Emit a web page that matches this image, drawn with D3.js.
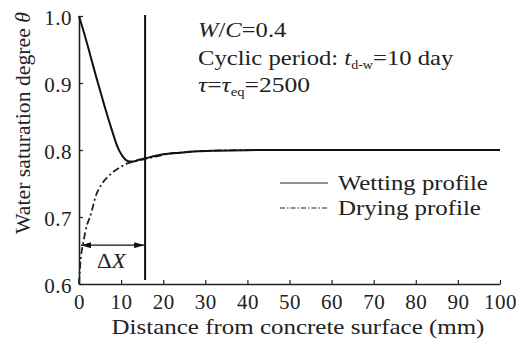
<!DOCTYPE html>
<html>
<head>
<meta charset="utf-8">
<script src="https://cdn.jsdelivr.net/npm/d3@7"></script>
<style>
  body { margin: 0; background: #fff; }
  svg { display: block; font-family: 'Liberation Serif'; }
</style>
</head>
<body>
<svg id="chart" width="530" height="341" font-family="Liberation Serif"></svg>
<script>
// distance (mm) and saturation degree
var wetX = [0, 1, 2, 3, 4, 5, 6, 7, 8, 9, 10, 11, 12, 13, 14, 16, 18, 20, 24, 28, 32, 40, 50, 100];
var wetY = [1.0, 0.979, 0.957, 0.934, 0.911, 0.889, 0.867, 0.846, 0.826, 0.807, 0.794, 0.786, 0.783, 0.783, 0.785, 0.788, 0.791, 0.7935, 0.796, 0.798, 0.799, 0.7998, 0.8, 0.8];
var dryX = [0, 0.3, 1, 2, 2.6, 4.2, 5.5, 7, 8.5, 10, 11.5, 12.5, 14, 16, 18, 20, 24, 28, 32, 40, 50, 100];
var dryY = [0.6, 0.63, 0.661, 0.69, 0.70, 0.735, 0.75, 0.761, 0.769, 0.775, 0.780, 0.782, 0.784, 0.787, 0.790, 0.793, 0.796, 0.798, 0.799, 0.7998, 0.8, 0.8];
var xTicks = [0, 10, 20, 30, 40, 50, 60, 70, 80, 90, 100];
var yTicks = [0.6, 0.7, 0.8, 0.9, 1.0];
var deltaX = 15.7, arrowTheta = 0.658;

var FONT = "Liberation Serif";
var INK = "#222";

var svg = d3.select("#chart");
var x = d3.scaleLinear().domain([0, 100]).range([79, 500]);
var y = d3.scaleLinear().domain([0.6, 1.0]).range([284, 16]);

// text helper: squeeze/stretch horizontally to the width seen in the figure
function label(px, py, w, opts) {
	opts = opts || {};
	var t = svg.append("text")
		.attr("x", 0).attr("y", 0)
		.attr("text-anchor", opts.anchor || "start")
		.attr("font-family", FONT)
		.attr("font-size", opts.size || 21)
		.attr("fill", INK);
	t.place = function() {
		var s = w / t.node().getBBox().width;
		t.attr("transform", "translate(" + px + "," + py + ")" + (opts.rot ? " rotate(-90)" : "") + " scale(" + s + ",1)");
		return t;
	};
	return t;
}
function part(t, str, italic, sub) {
	var s = t.append("tspan").text(str);
	if (italic) s.attr("font-style", "italic");
	if (sub === 1) s.attr("font-size", 12).attr("dy", 4);
	if (sub === -1) s.attr("dy", -4);
	return s;
}

var xAxis = svg.append("g")
	.attr("transform", "translate(0,284)")
	.call(d3.axisBottom(x).tickValues(xTicks).tickSizeInner(-4).tickSizeOuter(0).tickPadding(10));
var yAxis = svg.append("g")
	.attr("transform", "translate(79,0)")
	.call(d3.axisLeft(y).tickValues(yTicks).tickFormat(d3.format(".1f")).tickSizeInner(-4).tickSizeOuter(0).tickPadding(7));

[xAxis, yAxis].forEach(function(a) {
	a.attr("font-family", FONT).attr("font-size", 21);
	a.select(".domain").attr("stroke", INK).attr("stroke-width", 1.6);
	a.selectAll(".tick line").attr("stroke", INK).attr("stroke-width", 1.2);
	a.selectAll(".tick text")
		.attr("letter-spacing", 0.5)
		.attr("fill", INK);
});
yAxis.selectAll(".tick text").attr("dy", "0.42em");

var line = d3.line().x(function(d) { return x(d[0]); }).y(function(d) { return y(d[1]); })
	.curve(d3.curveMonotoneX);

svg.append("path")
	.datum(d3.zip(dryX, dryY))
	.attr("d", line)
	.attr("fill", "none")
	.attr("stroke", INK)
	.attr("stroke-width", 1.8)
	.attr("stroke-dasharray", "7,3,2,3");

svg.append("path")
	.datum(d3.zip(wetX, wetY))
	.attr("d", line)
	.attr("fill", "none")
	.attr("stroke", "#111")
	.attr("stroke-width", 2);

// delta X marker
svg.append("line")
	.attr("x1", x(deltaX)).attr("x2", x(deltaX))
	.attr("y1", y(1.0) - 1).attr("y2", y(0.6) - 4)
	.attr("stroke", "#111").attr("stroke-width", 2);

svg.append("defs").append("marker")
	.attr("id", "arr")
	.attr("viewBox", "0 0 10 6")
	.attr("refX", 10).attr("refY", 3)
	.attr("markerWidth", 10).attr("markerHeight", 6)
	.attr("markerUnits", "userSpaceOnUse")
	.attr("orient", "auto-start-reverse")
	.append("path").attr("d", "M0,0L10,3L0,6Z").attr("fill", "#111");

svg.append("line")
	.attr("x1", x(0) + 2).attr("x2", x(deltaX) - 1)
	.attr("y1", y(arrowTheta)).attr("y2", y(arrowTheta))
	.attr("stroke", "#111").attr("stroke-width", 1.3)
	.attr("marker-start", "url(#arr)")
	.attr("marker-end", "url(#arr)");

var dx = label(97, 268, 30);
part(dx, "Δ");
part(dx, "X", true);
dx.place();

// annotation
var t1 = label(198, 37, 89);
part(t1, "W", true); part(t1, "/"); part(t1, "C", true); part(t1, "=0.4");
t1.place();

var t2 = label(198, 65, 256);
part(t2, "Cyclic period: "); part(t2, "t", true); part(t2, "d-w", false, 1); part(t2, "=10 day", false, -1);
t2.place();

var t3 = label(198, 92, 112);
part(t3, "τ", true); part(t3, "="); part(t3, "τ", true); part(t3, "eq", false, 1); part(t3, "=2500", false, -1);
t3.place();

// legend
var legend = [
	{ name: "Wetting profile", dash: null, y: 183, w: 150 },
	{ name: "Drying profile", dash: "5,2,1.5,2", y: 208, w: 143 }
];
legend.forEach(function(l) {
	svg.append("line")
		.attr("x1", 280).attr("x2", 328).attr("y1", l.y).attr("y2", l.y)
		.attr("stroke", INK).attr("stroke-width", 1.2)
		.attr("stroke-dasharray", l.dash);
	label(338, l.y + 7, l.w).text(l.name).place();
});

// axis titles
label(298, 334, 373, { anchor: "middle" }).text("Distance from concrete surface (mm)").place();

var yl = label(30, 123, 222, { anchor: "middle", rot: true });
part(yl, "Water saturation degree ");
part(yl, "θ", true);
yl.place();
</script>
</body>
</html>
